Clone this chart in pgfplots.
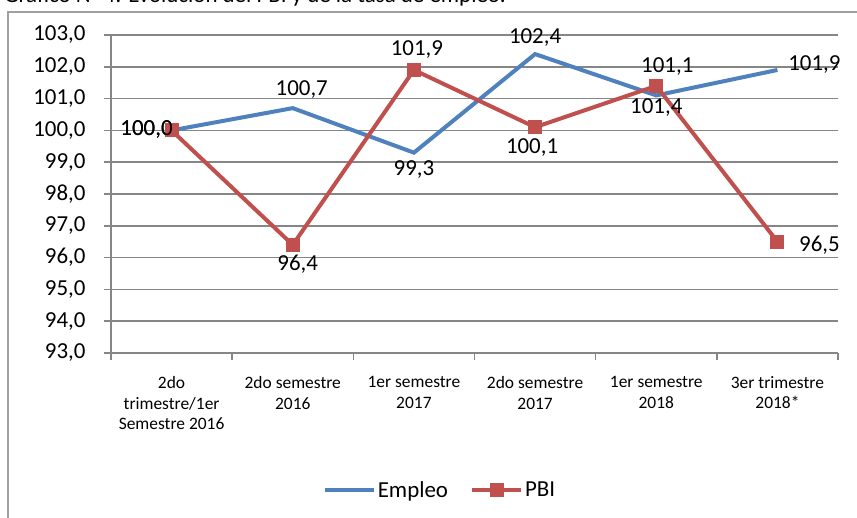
\documentclass[border=0pt]{standalone}
\usepackage{fontspec}
\setmainfont{Carlito}
\usepackage{pgfplots}
\usepackage{pgfplotstable}
\pgfplotsset{compat=1.18}
\definecolor{emp}{HTML}{4F81BD}
\definecolor{pbi}{HTML}{C0504D}
\definecolor{gridc}{HTML}{868686}
\definecolor{framec}{HTML}{A0A0A0}

\pgfplotstableread{
x y dx dy
0 100.0 -25 1
1 100.7 9 19
2 99.3 0 -17
3 102.4 0 17
4 101.1 11 29
5 101.9 37 5
}\emptable

\pgfplotstableread{
x y dx dy
0 100.0 -25 1
1 96.4 5 -19
2 101.9 3 20
3 100.1 -3 -20
4 101.4 0 -22
5 96.5 42 -4
}\pbitable

\begin{document}
\begin{tikzpicture}[x=1bp,y=1bp]
\begin{scope}
\clip (0,0) rectangle (857,518);
\draw[framec, line width=1.3bp] (8,-20) -- (8,506) -- (880,506);
\node[anchor=base west, inner sep=0, font=\fontsize{23}{27}\selectfont] at (4,515) {Gráfico N° 4: Evolución del PBI y de la tasa de empleo.};
\begin{axis}[
  at={(111bp,165bp)}, anchor=south west,
  scale only axis, width=727bp, height=318bp,
  xmin=-0.5, xmax=5.5, ymin=93, ymax=103,
  clip=false,
  axis lines*=left,
  axis line style={gridc, line width=1.5bp},
  ytick={93,...,103},
  minor ytick={93,...,103},
  xtick={0,...,5},
  minor xtick={-0.5,0.5,...,5.5},
  major tick length=0bp,
  minor tick length=7bp,
  tick align=outside,
  tick style={gridc, line width=1.5bp},
  ymajorgrids,
  major grid style={gridc, line width=1.5bp},
  /pgf/number format/.cd, use comma, fixed, fixed zerofill, precision=1, assume math mode=true,
  /pgfplots/.cd,
  yticklabel style={font=\fontsize{23}{27}\selectfont, xshift=-22bp},
  xticklabels={{2do\\trimestre/1er\\Semestre  2016},{2do semestre\\2016},{1er semestre\\2017},{2do semestre\\2017},{1er semestre\\2018},{3er trimestre\\2018*}},
  xticklabel style={font=\fontsize{17.5}{20.5}\selectfont, align=center, anchor=north, yshift=-20bp},
  legend style={at={(axis description cs:0.4525,-0.4308)}, anchor=center, draw=none, fill=none,
    font=\fontsize{23}{27}\selectfont, nodes={inner sep=2bp},
    /tikz/every even column/.append style={column sep=20bp}},
  legend columns=2,
  legend image code/.code={\draw[mark repeat=2, mark phase=2, #1] plot coordinates {(0bp,0bp) (24.5bp,0bp) (49bp,0bp)};},
  nodes near coords,
  visualization depends on={\thisrow{dx}\as\dx},
  visualization depends on={\thisrow{dy}\as\dy},
  every node near coord/.append style={font=\fontsize{23}{27}\selectfont, text=black, anchor=center, xshift=\dx bp, yshift=\dy bp},
]
\addplot[emp, line width=4bp, mark=none] table[x=x, y=y] {\emptable};
\addlegendentry{Empleo}
\addplot[pbi, line width=4bp, mark=square*, mark size=6.5bp, mark options={solid, fill=pbi, line width=1bp}] table[x=x, y=y] {\pbitable};
\addlegendentry{PBI}
\end{axis}
\end{scope}
\pgfresetboundingbox
\useasboundingbox (0,0) rectangle (857,518);
\end{tikzpicture}
\end{document}
